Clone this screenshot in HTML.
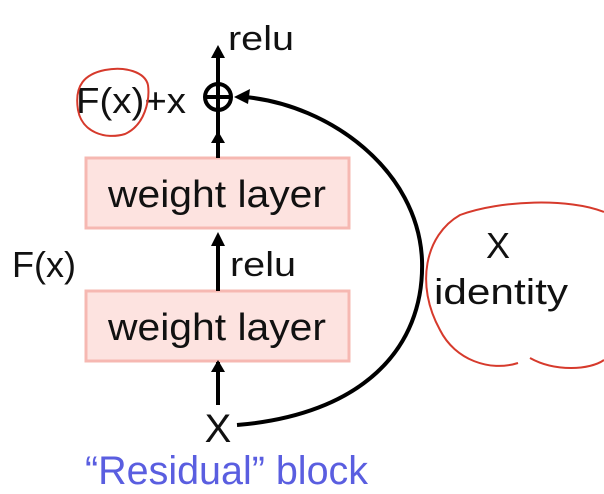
<!DOCTYPE html>
<html><head><meta charset="utf-8"><style>
html,body{margin:0;padding:0;background:#fff;}
svg{display:block;}
text{font-family:"Liberation Sans","Noto Sans CJK KR",sans-serif;fill:#111;}
</style></head><body>
<svg width="604" height="494" viewBox="0 0 604 494">
<g>
<rect x="86" y="158" width="263" height="70" fill="#fde3e0" stroke="#f6b8b2" stroke-width="3"/>
<text x="108" y="207" font-size="38" textLength="218" lengthAdjust="spacingAndGlyphs">weight layer</text></g>
<g>
<rect x="86" y="291" width="263" height="70" fill="#fde3e0" stroke="#f6b8b2" stroke-width="3"/>
<text x="108" y="340" font-size="38" textLength="218" lengthAdjust="spacingAndGlyphs">weight layer</text></g>
<g stroke="#000" stroke-width="4" fill="none">
<line x1="218" y1="405" x2="218" y2="362"/>
<path d="M211,372 L218,360 L225,372 z" fill="#000" stroke="none"/>
<line x1="218" y1="291" x2="218" y2="240"/>
<path d="M211,246 L218,232 L225,246 z" fill="#000" stroke="none"/>
<line x1="218" y1="158" x2="218" y2="50"/>
<path d="M211,143 L218,131 L225,143 z" fill="#000" stroke="none"/>
<path d="M211,58 L218,45 L225,58 z" fill="#000" stroke="none"/>
<circle cx="218" cy="97" r="13"/>
<line x1="205" y1="97" x2="231" y2="97"/>
<path d="M237,425 C360,415 425,350 422,260 C418,170 330,105 245,97"/>
<path d="M234,97 L250,89 L248,104 z" fill="#000" stroke="none"/>
</g>
<text x="228" y="50" font-size="34" textLength="66" lengthAdjust="spacingAndGlyphs">relu</text>
<text x="76" y="113" font-size="36" textLength="110" lengthAdjust="spacingAndGlyphs">F(x)+x</text>
<text x="12" y="277" font-size="36" textLength="64" lengthAdjust="spacingAndGlyphs">F(x)</text>
<text x="230" y="276" font-size="34" textLength="66" lengthAdjust="spacingAndGlyphs">relu</text>
<text x="498" y="258" font-size="36" text-anchor="middle">X</text>
<text x="434" y="304" font-size="36" textLength="134" lengthAdjust="spacingAndGlyphs">identity</text>
<text x="218" y="442" font-size="40" text-anchor="middle">X</text>
<text x="85" y="484" font-size="40" textLength="283" lengthAdjust="spacingAndGlyphs" style="fill:#5a5ee0">“Residual” block</text>
<g fill="none" stroke="#d63a2c" stroke-width="2">
<path d="M148,85 C145,72 125,66 105,70 C85,74 74,85 78,110 C82,132 105,140 125,134 C145,125 150,100 148,85"/>
<path d="M604,212 C570,198 500,200 460,215 C425,235 415,285 440,330 C455,360 490,372 518,363 M530,358 C555,372 590,370 604,360"/>
</g>
</svg>
</body></html>
